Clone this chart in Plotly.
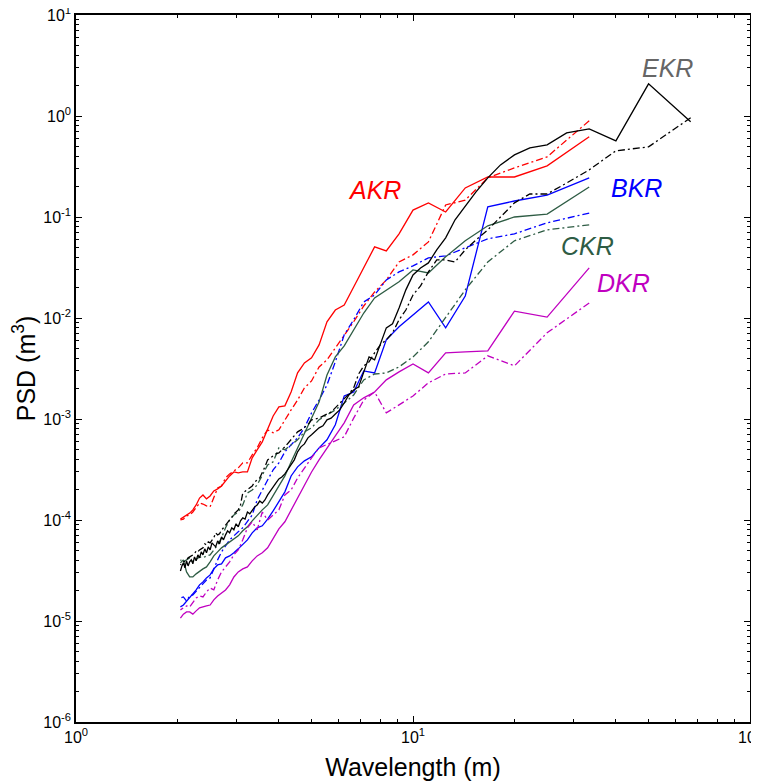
import plotly.graph_objects as go

# Wavelength grids (m)
wl_short = [33.33, 25.0, 20.0, 16.67, 14.29, 12.5, 11.11, 10.0, 9.091, 8.333, 7.692, 7.143,
            6.667, 6.25, 5.882, 5.556, 5.263, 5.0, 4.762, 4.545, 4.348, 4.167, 4.0, 3.846,
            3.704, 3.571, 3.448, 3.333, 3.226, 3.125, 3.030, 2.941, 2.857, 2.778, 2.703,
            2.632, 2.564, 2.5, 2.439, 2.381, 2.326, 2.273, 2.222, 2.174, 2.128, 2.083, 2.041]
wl_long = [66.67, 50.0, 40.0, 33.33, 28.57, 25.0, 22.22, 20.0, 18.18, 16.67, 15.38, 14.29,
           13.33, 12.5, 11.76, 11.11, 10.53, 10.0, 9.524, 9.091, 8.696, 8.333, 8.0, 7.692,
           7.407, 7.143, 6.897, 6.667, 6.452, 6.25, 6.061, 5.882, 5.714, 5.556, 5.405, 5.263,
           5.128, 5.0, 4.878, 4.762, 4.651, 4.545, 4.444, 4.348, 4.255, 4.167, 4.082, 4.0,
           3.922, 3.846, 3.774, 3.704, 3.636, 3.571, 3.509, 3.448, 3.390, 3.333, 3.279, 3.226,
           3.175, 3.125, 3.077, 3.030, 2.985, 2.941, 2.899, 2.857, 2.817, 2.778, 2.740, 2.703,
           2.667, 2.632, 2.597, 2.564, 2.532, 2.5, 2.469, 2.439, 2.410, 2.381, 2.353, 2.326,
           2.299, 2.273, 2.247, 2.222, 2.198, 2.174, 2.151, 2.128, 2.105, 2.083, 2.062, 2.041]

# PSD (m^3)
akr_solid = [0.622, 0.321, 0.249, 0.249, 0.194, 0.112, 0.138, 0.117, 0.0681, 0.0462, 0.0506, 0.0321,
             0.0203, 0.01345, 0.0120, 9.17e-3, 5.42e-3, 4.03e-3, 3.59e-3, 2.86e-3, 1.85e-3, 1.35e-3,
             1.32e-3, 1.07e-3, 7.81e-4, 5.94e-4, 4.95e-4, 4.12e-4, 2.99e-4, 2.99e-4, 2.93e-4, 2.99e-4,
             2.73e-4, 2.44e-4, 2.17e-4, 2.03e-4, 1.94e-4, 1.73e-4, 1.62e-4, 1.77e-4, 1.65e-4, 1.41e-4,
             1.26e-4, 1.17e-4, 1.12e-4, 1.07e-4, 1.02e-4]
akr_dashdot = [0.896, 0.394, 0.306, 0.244, 0.147, 0.1315, 0.0567, 0.0422, 0.0359, 0.0238, 0.0181, 0.01315,
               9.17e-3, 6.81e-3, 5.06e-3, 3.85e-3, 3.28e-3, 2.38e-3, 2.03e-3, 1.54e-3, 1.23e-3, 9.82e-4,
               7.81e-4, 7.30e-4, 7.81e-4, 6.51e-4, 5.18e-4, 4.41e-4, 3.68e-4, 3.68e-4, 3.28e-4, 3.06e-4,
               2.86e-4, 2.61e-4, 2.17e-4, 2.08e-4, 1.69e-4, 1.35e-4, 1.38e-4, 1.44e-4, 1.47e-4, 1.32e-4,
               1.20e-4, 1.12e-4, 1.10e-4, 1.02e-4, 1.00e-4]
bkr_solid = [0.244, 0.165, 0.144, 0.126, 0.0165, 7.99e-3, 0.0144, 0.0107, 8.18e-3, 6.08e-3, 2.86e-3, 2.99e-3,
             1.85e-3, 1.69e-3, 8.76e-4, 6.22e-4, 5.18e-4, 4.22e-4, 3.85e-4, 3.36e-4, 2.73e-4, 1.90e-4,
             1.51e-4, 1.23e-4, 1.02e-4, 8.76e-5, 8.37e-5, 7.46e-5, 6.36e-5, 5.67e-5, 5.18e-5, 4.73e-5,
             4.41e-5, 4.22e-5, 3.68e-5, 3.59e-5, 3.28e-5, 2.86e-5, 2.67e-5, 2.44e-5, 2.28e-5, 2.03e-5,
             1.85e-5, 1.69e-5, 1.58e-5, 1.44e-5, 1.38e-5]
bkr_dashdot = [0.1095, 0.0876, 0.0681, 0.0608, 0.0495, 0.0412, 0.0394, 0.0328, 0.0286, 0.0238, 0.0169, 0.0144,
               9.60e-3, 6.81e-3, 3.68e-3, 2.17e-3, 1.54e-3, 1.15e-3, 8.18e-4, 6.51e-4, 5.55e-4, 4.73e-4,
               3.68e-4, 3.13e-4, 2.49e-4, 1.98e-4, 1.58e-4, 1.12e-4, 9.60e-5, 8.37e-5, 7.64e-5, 6.97e-5,
               6.36e-5, 5.55e-5, 4.84e-5, 4.03e-5, 3.21e-5, 2.67e-5, 2.55e-5, 2.33e-5, 2.17e-5, 1.94e-5,
               1.81e-5, 1.77e-5, 1.58e-5, 1.73e-5, 1.69e-5]
ckr_solid = [0.198, 0.107, 0.100, 0.0818, 0.0581, 0.0403, 0.0279, 0.0299, 0.0228, 0.0190, 0.0158, 0.0112,
             7.64e-3, 5.30e-3, 4.12e-3, 2.73e-3, 1.47e-3, 1.02e-3, 7.46e-4, 5.18e-4, 3.76e-4, 2.73e-4,
             2.17e-4, 1.69e-4, 1.41e-4, 1.26e-4, 1.12e-4, 9.82e-5, 8.56e-5, 7.81e-5, 6.97e-5, 6.51e-5,
             6.08e-5, 5.67e-5, 5.30e-5, 4.84e-5, 4.41e-5, 3.85e-5, 3.43e-5, 3.28e-5, 3.13e-5, 2.93e-5,
             2.73e-5, 2.73e-5, 3.06e-5, 4.03e-5, 3.76e-5]
ckr_dashdot = [0.0837, 0.0746, 0.0581, 0.0359, 0.0190, 0.0100, 5.81e-3, 4.12e-3, 3.28e-3, 2.86e-3, 2.79e-3, 2.44e-3,
               1.73e-3, 1.44e-3, 1.23e-3, 1.10e-3, 9.82e-4, 8.18e-4, 7.46e-4, 6.22e-4, 5.55e-4, 4.95e-4,
               5.18e-4, 3.76e-4, 3.51e-4, 2.79e-4, 2.22e-4, 1.98e-4, 1.85e-4, 1.41e-4, 1.20e-4, 1.12e-4,
               1.00e-4, 8.37e-5, 6.66e-5, 5.67e-5, 5.06e-5, 4.52e-5, 4.41e-5, 4.22e-5, 4.31e-5, 4.03e-5,
               3.85e-5, 4.22e-5, 4.03e-5, 3.85e-5, 4.03e-5]
dkr_solid = [0.0313, 0.0102, 0.0117, 4.73e-3, 4.62e-3, 4.52e-3, 2.86e-3, 3.51e-3, 2.93e-3, 2.44e-3, 1.85e-3, 1.62e-3,
             1.38e-3, 9.17e-4, 6.81e-4, 5.18e-4, 3.94e-4, 2.99e-4, 2.22e-4, 1.65e-4, 1.23e-4, 9.60e-5,
             8.18e-5, 6.51e-5, 5.30e-5, 4.73e-5, 4.41e-5, 3.94e-5, 3.43e-5, 3.28e-5, 3.06e-5, 2.73e-5,
             2.28e-5, 2.03e-5, 1.90e-5, 1.77e-5, 1.62e-5, 1.44e-5, 1.41e-5, 1.38e-5, 1.35e-5, 1.26e-5,
             1.17e-5, 1.23e-5, 1.23e-5, 1.17e-5, 1.07e-5]
dkr_dashdot = [0.0141, 7.13e-3, 3.36e-3, 4.22e-3, 2.86e-3, 2.79e-3, 2.28e-3, 1.69e-3, 1.38e-3, 1.15e-3, 1.85e-3, 1.54e-3,
               1.02e-3, 6.66e-4, 6.08e-4, 5.55e-4, 5.18e-4, 4.12e-4, 3.28e-4, 2.61e-4, 1.98e-4, 1.77e-4,
               1.26e-4, 1.12e-4, 1.00e-4, 1.20e-4, 7.99e-5, 9.60e-5, 8.37e-5, 6.36e-5, 5.06e-5, 4.52e-5,
               3.85e-5, 3.43e-5, 3.06e-5, 2.55e-5, 2.03e-5, 2.12e-5, 1.94e-5, 1.73e-5, 1.77e-5, 1.69e-5,
               1.51e-5, 1.38e-5, 1.41e-5, 1.35e-5, 1.29e-5]
ekr_solid = [0.876, 2.08, 0.567, 0.746, 0.681, 0.518, 0.484, 0.412, 0.328, 0.244,
             0.177, 0.1285, 0.0938, 0.0622, 0.0473, 0.0351, 0.0313, 0.0267, 0.0190, 0.01256,
             8.76e-3, 7.99e-3, 5.42e-3, 3.85e-3, 4.12e-3, 2.93e-3, 2.08e-3, 1.94e-3, 1.73e-3, 1.44e-3,
             1.23e-3, 1.12e-3, 1.02e-3, 9.82e-4, 8.56e-4, 8.18e-4, 7.46e-4, 6.97e-4, 6.51e-4, 5.67e-4,
             5.30e-4, 4.73e-4, 3.94e-4, 3.51e-4, 3.13e-4, 2.86e-4, 2.67e-4, 2.55e-4, 2.33e-4, 2.12e-4,
             1.98e-4, 1.77e-4, 1.58e-4, 1.47e-4, 1.54e-4, 1.41e-4, 1.35e-4, 1.26e-4, 1.15e-4, 1.20e-4,
             1.02e-4, 1.05e-4, 9.82e-5, 8.56e-5, 9.17e-5, 7.99e-5, 8.37e-5, 7.46e-5, 7.81e-5, 7.13e-5,
             6.36e-5, 6.81e-5, 5.81e-5, 6.22e-5, 5.42e-5, 5.67e-5, 5.94e-5, 5.06e-5, 5.42e-5, 4.73e-5,
             5.18e-5, 4.52e-5, 4.84e-5, 4.22e-5, 4.52e-5, 3.94e-5, 4.31e-5, 3.68e-5, 4.03e-5, 3.85e-5,
             3.51e-5, 3.94e-5, 3.36e-5, 3.76e-5, 3.51e-5, 3.13e-5]
ekr_dashdot = [0.960, 0.495, 0.452, 0.293, 0.217, 0.169, 0.169, 0.138, 0.100, 0.0746,
               0.0594, 0.0473, 0.0359, 0.0376, 0.0376, 0.0286, 0.0208, 0.0169, 0.0120, 9.60e-3,
               7.13e-3, 6.08e-3, 5.42e-3, 4.52e-3, 3.68e-3, 3.36e-3, 2.79e-3, 2.03e-3, 1.77e-3, 1.58e-3,
               1.44e-3, 1.29e-3, 1.17e-3, 1.12e-3, 1.07e-3, 1.02e-3, 1.00e-3, 9.82e-4, 8.76e-4, 8.18e-4,
               7.81e-4, 7.46e-4, 6.81e-4, 6.22e-4, 5.81e-4, 5.30e-4, 4.95e-4, 4.62e-4, 4.52e-4, 4.31e-4,
               4.12e-4, 3.94e-4, 3.36e-4, 2.99e-4, 2.61e-4, 2.49e-4, 2.38e-4, 2.17e-4, 2.08e-4, 1.98e-4,
               1.94e-4, 1.85e-4, 1.41e-4, 1.26e-4, 1.20e-4, 1.15e-4, 1.07e-4, 1.00e-4, 9.60e-5, 8.76e-5,
               8.37e-5, 7.99e-5, 7.30e-5, 7.13e-5, 7.46e-5, 6.66e-5, 6.36e-5, 5.94e-5, 6.08e-5, 5.67e-5,
               5.81e-5, 5.30e-5, 5.18e-5, 5.06e-5, 4.84e-5, 4.95e-5, 4.62e-5, 4.52e-5, 4.41e-5, 4.31e-5,
               4.22e-5, 4.03e-5, 3.94e-5, 3.85e-5, 3.76e-5, 3.59e-5]

x_tickvals = [1, 10, 100]
x_ticktext = ["10<sup>0</sup>", "10<sup>1</sup>", "10<sup>2</sup>"]
y_tickvals = [1e-6, 1e-5, 1e-4, 1e-3, 1e-2, 1e-1, 1, 10]
y_ticktext = ["10<sup>-6</sup>", "10<sup>-5</sup>", "10<sup>-4</sup>", "10<sup>-3</sup>",
              "10<sup>-2</sup>", "10<sup>-1</sup>", "10<sup>0</sup>", "10<sup>1</sup>"]

RED = "#FF0000"
BLUE = "#0000FF"
GREEN = "#2E5C44"
MAGENTA = "#C000C0"
BLACK = "#000000"
DASHDOT = "7px,3px,2px,3px"

series = [
    (wl_short, akr_solid, RED, "solid"),
    (wl_short, akr_dashdot, RED, DASHDOT),
    (wl_short, bkr_solid, BLUE, "solid"),
    (wl_short, bkr_dashdot, BLUE, DASHDOT),
    (wl_short, ckr_solid, GREEN, "solid"),
    (wl_short, ckr_dashdot, GREEN, DASHDOT),
    (wl_short, dkr_solid, MAGENTA, "solid"),
    (wl_short, dkr_dashdot, MAGENTA, DASHDOT),
    (wl_long, ekr_solid, BLACK, "solid"),
    (wl_long, ekr_dashdot, BLACK, DASHDOT),
]

fig = go.Figure()
for x, y, c, d in series:
    fig.add_trace(go.Scatter(x=x, y=y, mode="lines",
                             line=dict(color=c, width=1.3, dash=d),
                             showlegend=False, hoverinfo="skip"))

FONT = "Liberation Sans, Arial, Helvetica, sans-serif"

minor_x = [2, 3, 4, 5, 6, 7, 8, 9, 20, 30, 40, 50, 60, 70, 80, 90]
minor_y = []
for e in [1e-6, 1e-5, 1e-4, 1e-3, 1e-2, 1e-1, 1]:
    for m in range(2, 10):
        minor_y.append(m * e)

fig.update_xaxes(type="log", range=[0, 2], tickmode="array", tickvals=x_tickvals, ticktext=x_ticktext,
                 ticks="inside", ticklen=6, tickwidth=1, tickcolor="black", automargin=False,
                 ticklabeloverflow="allow",
                 minor=dict(ticks="inside", ticklen=3, tickwidth=1, tickcolor="black",
                            tickmode="array", tickvals=minor_x, showgrid=False),
                 showline=True, linecolor="black", linewidth=1.5, mirror="ticks",
                 showgrid=False, zeroline=False,
                 tickfont=dict(family=FONT, size=16, color="black"),
                 title=dict(text="Wavelength (m)", font=dict(family=FONT, size=25, color="black"),
                            standoff=14))
fig.update_yaxes(type="log", range=[-6, 1], tickmode="array", tickvals=y_tickvals, ticktext=y_ticktext,
                 ticks="inside", ticklen=6, tickwidth=1, tickcolor="black", automargin=False,
                 ticklabeloverflow="allow",
                 minor=dict(ticks="inside", ticklen=3, tickwidth=1, tickcolor="black",
                            tickmode="array", tickvals=minor_y, showgrid=False),
                 showline=True, linecolor="black", linewidth=1.5, mirror="ticks",
                 showgrid=False, zeroline=False,
                 tickfont=dict(family=FONT, size=16, color="black"),
                 title=dict(text="PSD (m<sup>3</sup>)", font=dict(family=FONT, size=25, color="black"),
                            standoff=6))

labels = [
    ("AKR", 0.4436, 0.7525, RED),
    ("BKR", 0.8323, 0.7553, BLUE),
    ("CKR", 0.7582, 0.6733, GREEN),
    ("DKR", 0.8116, 0.6209, MAGENTA),
    ("EKR", 0.8783, 0.9250, "#666666"),
]
for t, xp, yp, c in labels:
    fig.add_annotation(text="<i>%s</i>" % t, x=xp, y=yp, xref="paper", yref="paper",
                       showarrow=False, xanchor="center", yanchor="middle",
                       font=dict(family=FONT, size=25, color=c))

fig.update_layout(width=751, height=774, margin=dict(l=68, r=9, t=7, b=60, autoexpand=False),
                  paper_bgcolor="white", plot_bgcolor="white",
                  font=dict(family=FONT, color="black"))

fig.write_html("out.html")
